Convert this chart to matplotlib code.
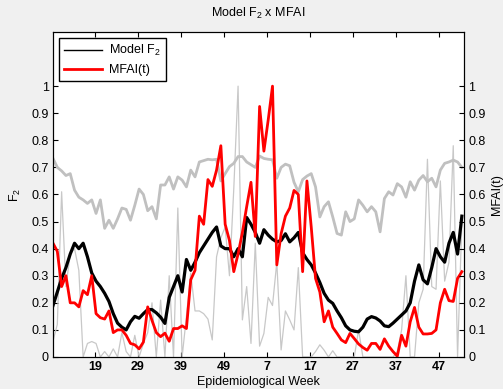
import numpy as np
import matplotlib
matplotlib.use('Agg')
import matplotlib.pyplot as plt
from matplotlib.lines import Line2D

plt.rcParams['font.family'] = ['Liberation Sans', 'DejaVu Sans']
plt.rcParams['mathtext.default'] = 'regular'

# weekly series (week index 0 = first week shown)
mfai = [0.42, 0.39, 0.26, 0.30, 0.20, 0.20, 0.185, 0.245, 0.23, 0.30,
        0.16, 0.145, 0.14, 0.17, 0.09, 0.10, 0.10, 0.08, 0.05, 0.045,
        0.03, 0.055, 0.185, 0.135, 0.09, 0.075, 0.088, 0.058, 0.105, 0.105,
        0.115, 0.105, 0.285, 0.32, 0.52, 0.49, 0.655, 0.63, 0.69, 0.78,
        0.49, 0.43, 0.315, 0.38, 0.46, 0.555, 0.645, 0.445, 0.925, 0.76,
        0.875, 1.0, 0.34, 0.455, 0.52, 0.55, 0.615, 0.60, 0.315, 0.65,
        0.48, 0.29, 0.24, 0.13, 0.17, 0.11, 0.087, 0.063, 0.053, 0.087,
        0.068, 0.048, 0.035, 0.025, 0.05, 0.05, 0.028, 0.067, 0.04, 0.02,
        0.003, 0.08, 0.04, 0.13, 0.183, 0.11, 0.085, 0.085, 0.087, 0.10,
        0.20, 0.25, 0.208, 0.205, 0.29, 0.315]

gray_smooth = [0.733, 0.70, 0.687, 0.67, 0.677, 0.616, 0.59, 0.58, 0.567, 0.58,
               0.53, 0.58, 0.475, 0.505, 0.475, 0.51, 0.55, 0.545, 0.505, 0.56,
               0.62, 0.60, 0.54, 0.555, 0.51, 0.635, 0.635, 0.665, 0.62, 0.665,
               0.653, 0.628, 0.69, 0.665, 0.72, 0.725, 0.73, 0.728, 0.73, 0.65,
               0.677, 0.703, 0.715, 0.74, 0.74, 0.72, 0.71, 0.70, 0.742, 0.733,
               0.73, 0.728, 0.66, 0.70, 0.712, 0.706, 0.645, 0.61, 0.655, 0.668,
               0.677, 0.628, 0.517, 0.555, 0.573, 0.517, 0.456, 0.45, 0.536, 0.50,
               0.51, 0.58, 0.56, 0.536, 0.555, 0.536, 0.462, 0.585, 0.61, 0.598,
               0.64, 0.628, 0.59, 0.647, 0.616, 0.653, 0.67, 0.647, 0.66, 0.628,
               0.69, 0.715, 0.72, 0.727, 0.72, 0.70]

gray_raw = [0.06, 0.12, 0.61, 0.26, 0.38, 0.40, 0.32, 0.0, 0.05, 0.057,
            0.05, 0.0, 0.02, 0.0, 0.03, 0.0, 0.09, 0.02, 0.0, 0.08,
            0.0, 0.05, 0.09, 0.20, 0.0, 0.21, 0.0, 0.30, 0.0, 0.55,
            0.0, 0.15, 0.31, 0.17, 0.17, 0.16, 0.14, 0.063, 0.37, 0.44,
            0.48, 0.30, 0.62, 1.0, 0.137, 0.26, 0.05, 0.42, 0.04, 0.087,
            0.22, 0.19, 0.35, 0.026, 0.17, 0.137, 0.10, 0.33, 0.0, 0.0,
            0.0, 0.02, 0.045, 0.025, 0.0, 0.023, 0.0, 0.0, 0.0, 0.0,
            0.0, 0.10, 0.0, 0.0, 0.0, 0.0, 0.0, 0.0, 0.0, 0.0,
            0.02, 0.10, 0.30, 0.0, 0.0, 0.20, 0.25, 0.73, 0.26, 0.25,
            0.65, 0.28, 0.35, 0.78, 0.0, 0.50]

model_f2 = [0.19, 0.24, 0.29, 0.33, 0.38, 0.42, 0.40, 0.42, 0.37, 0.31,
            0.28, 0.26, 0.235, 0.205, 0.16, 0.125, 0.11, 0.10, 0.13, 0.15,
            0.143, 0.16, 0.175, 0.175, 0.163, 0.147, 0.124, 0.22, 0.26, 0.30,
            0.24, 0.36, 0.32, 0.35, 0.385, 0.41, 0.435, 0.46, 0.48, 0.41,
            0.40, 0.40, 0.37, 0.40, 0.37, 0.515, 0.49, 0.46, 0.42, 0.47,
            0.45, 0.435, 0.425, 0.43, 0.455, 0.425, 0.44, 0.46, 0.385, 0.36,
            0.34, 0.31, 0.275, 0.235, 0.21, 0.198, 0.17, 0.145, 0.115, 0.10,
            0.095, 0.093, 0.11, 0.14, 0.149, 0.144, 0.133, 0.115, 0.112, 0.125,
            0.14, 0.155, 0.17, 0.20, 0.28, 0.34, 0.285, 0.27, 0.33, 0.40,
            0.37, 0.35, 0.42, 0.46, 0.38, 0.52]

week_labels = [19, 29, 39, 49, 7, 17, 27, 37, 47]

weeks = np.arange(len(mfai))
tick_pos = np.arange(len(week_labels)) * 10 + 9.7
yt = np.arange(0, 1.01, 0.1).round(1)

fig = plt.figure(figsize=(5.03, 3.89), dpi=100, facecolor='#f0f0f0')
ax = fig.add_axes([0.1054, 0.0823, 0.8171, 0.8355])
ax2 = ax.twinx()

ax.plot(weeks, gray_raw, color='#c8c8c8', lw=0.9)
ax.plot(weeks, gray_smooth, color='#c0c0c0', lw=2.0)
ax.plot(weeks, model_f2, color='black', lw=2.3)
ax.plot(weeks, mfai, color='red', lw=2.0)

for a in (ax, ax2):
    a.set_ylim(0, 1.2)
    a.set_yticks(yt)
    a.set_yticklabels([f'{v:g}' for v in yt], fontsize=9)
    a.tick_params(direction='in', length=3.5, width=0.8, pad=3)
ax.set_xlim(0, 95.5)
ax.set_xticks(tick_pos)
ax.set_xticklabels(week_labels, fontsize=9, fontweight='bold')
ax.tick_params(axis='x', top=True)
ax.tick_params(axis='y', right=False)

ax.set_title('Model F$_2$ x MFAI', fontsize=9, pad=11)
ax.set_xlabel('Epidemiological Week', fontsize=9, labelpad=2)
ax.set_ylabel('F$_2$', fontsize=9, labelpad=6)
ax2.set_ylabel('MFAI(t)', fontsize=9)

handles = [Line2D([], [], color='black', lw=1.0), Line2D([], [], color='red', lw=2.0)]
leg = ax.legend(handles, ['Model F$_2$', 'MFAI(t)'], loc='upper left', fontsize=9,
                fancybox=False, framealpha=1, edgecolor='black', handlelength=3.0,
                borderaxespad=0.5, labelspacing=0.45, handletextpad=0.6)
leg.get_frame().set_linewidth(1.0)

plt.savefig('out.png', dpi=100, facecolor=fig.get_facecolor())
